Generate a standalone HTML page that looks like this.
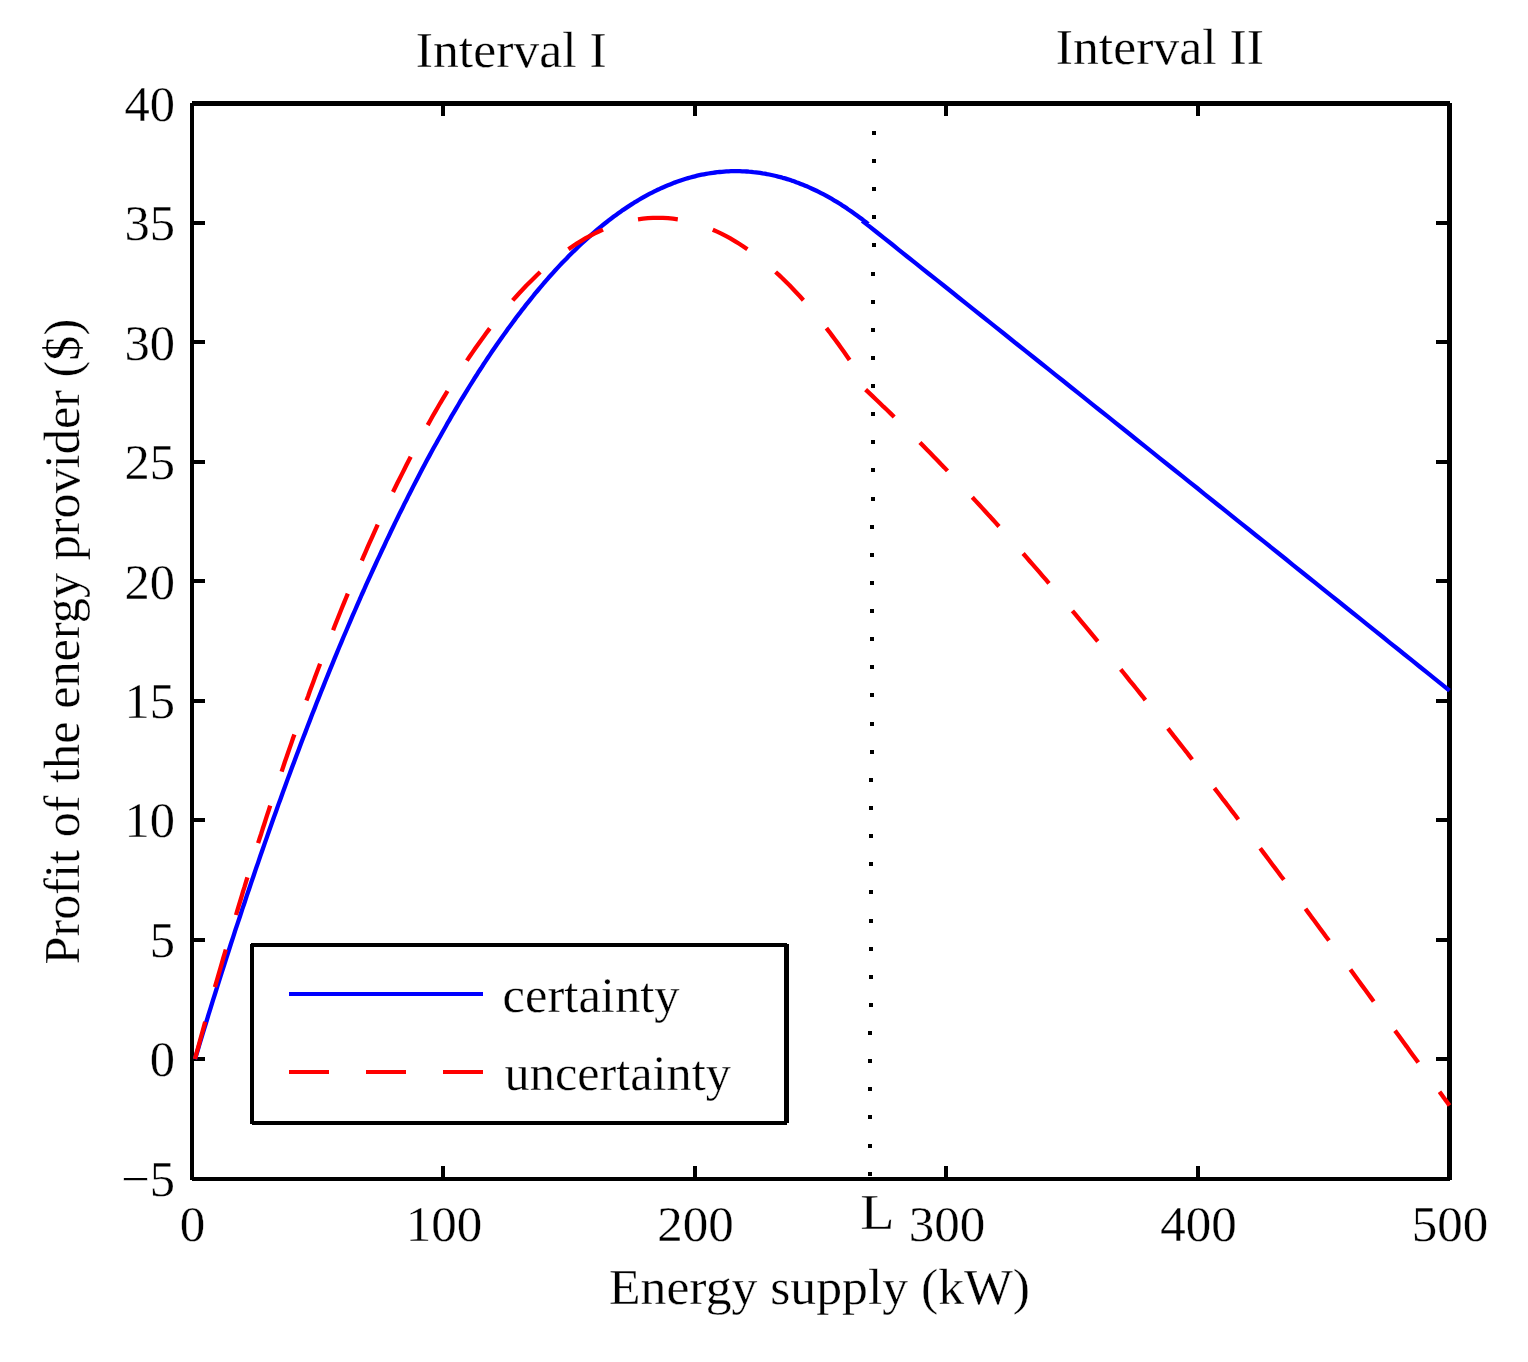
<!DOCTYPE html>
<html><head><meta charset="utf-8"><title>Profit of the energy provider</title>
<style>html,body{margin:0;padding:0;background:#fff;width:1528px;height:1362px;overflow:hidden}svg{display:block}</style>
</head><body>
<svg width="1528" height="1362" viewBox="0 0 1528 1362">
<style>text{fill:#000;stroke:#fff;stroke-width:0.3px;paint-order:fill}</style>
<rect x="0" y="0" width="1528" height="1362" fill="#fff"/>
<g fill="#000" shape-rendering="crispEdges">
<rect x="190" y="103" width="4" height="1077"/>
<rect x="1447" y="103" width="5" height="1077"/>
<rect x="192" y="101" width="1258" height="5"/>
<rect x="192" y="1177" width="1258" height="4"/>
<rect x="194" y="1057" width="11" height="4"/>
<rect x="1436" y="1057" width="11" height="4"/>
<rect x="194" y="938" width="11" height="4"/>
<rect x="1436" y="938" width="11" height="4"/>
<rect x="194" y="818" width="11" height="4"/>
<rect x="1436" y="818" width="11" height="4"/>
<rect x="194" y="699" width="11" height="4"/>
<rect x="1436" y="699" width="11" height="4"/>
<rect x="194" y="579" width="11" height="4"/>
<rect x="1436" y="579" width="11" height="4"/>
<rect x="194" y="460" width="11" height="4"/>
<rect x="1436" y="460" width="11" height="4"/>
<rect x="194" y="340" width="11" height="4"/>
<rect x="1436" y="340" width="11" height="4"/>
<rect x="194" y="221" width="11" height="4"/>
<rect x="1436" y="221" width="11" height="4"/>
<rect x="441" y="1166" width="4" height="11"/>
<rect x="441" y="106" width="4" height="10"/>
<rect x="693" y="1166" width="4" height="11"/>
<rect x="693" y="106" width="4" height="10"/>
<rect x="944" y="1166" width="4" height="11"/>
<rect x="944" y="106" width="4" height="10"/>
<rect x="1196" y="1166" width="4" height="11"/>
<rect x="1196" y="106" width="4" height="10"/>
<rect x="872" y="131" width="4" height="4"/>
<rect x="872" y="159" width="4" height="4"/>
<rect x="872" y="187" width="4" height="4"/>
<rect x="872" y="215" width="4" height="4"/>
<rect x="872" y="243" width="4" height="4"/>
<rect x="871" y="272" width="4" height="4"/>
<rect x="871" y="300" width="4" height="4"/>
<rect x="871" y="328" width="4" height="4"/>
<rect x="871" y="356" width="4" height="4"/>
<rect x="871" y="384" width="4" height="4"/>
<rect x="871" y="412" width="4" height="4"/>
<rect x="871" y="440" width="4" height="4"/>
<rect x="871" y="468" width="4" height="4"/>
<rect x="871" y="497" width="4" height="4"/>
<rect x="870" y="525" width="4" height="4"/>
<rect x="870" y="553" width="4" height="4"/>
<rect x="870" y="581" width="4" height="4"/>
<rect x="870" y="609" width="4" height="4"/>
<rect x="870" y="637" width="4" height="4"/>
<rect x="870" y="665" width="4" height="4"/>
<rect x="870" y="693" width="4" height="4"/>
<rect x="870" y="722" width="4" height="4"/>
<rect x="870" y="750" width="4" height="4"/>
<rect x="869" y="778" width="4" height="4"/>
<rect x="869" y="806" width="4" height="4"/>
<rect x="869" y="834" width="4" height="4"/>
<rect x="869" y="862" width="4" height="4"/>
<rect x="869" y="890" width="4" height="4"/>
<rect x="869" y="919" width="4" height="4"/>
<rect x="869" y="947" width="4" height="4"/>
<rect x="869" y="975" width="4" height="4"/>
<rect x="869" y="1003" width="4" height="4"/>
<rect x="868" y="1031" width="4" height="4"/>
<rect x="868" y="1059" width="4" height="4"/>
<rect x="868" y="1087" width="4" height="4"/>
<rect x="868" y="1115" width="4" height="4"/>
<rect x="868" y="1144" width="4" height="4"/>
<rect x="868" y="1172" width="4" height="4"/>
</g>
<g fill="none" stroke-linejoin="round" stroke-linecap="butt" stroke-width="4.3">
<path stroke="#0000ff" d="M195.0,1059.0L197.3,1051.5L199.5,1044.1L201.8,1036.7L204.0,1029.3L206.3,1022.0L208.5,1014.7L210.8,1007.4L213.0,1000.2L215.3,993.0L217.5,985.8L219.8,978.7L222.0,971.6L224.3,964.5L226.5,957.5L228.8,950.5L231.0,943.5L233.3,936.6L235.5,929.7L237.8,922.9L240.1,916.0L242.3,909.2L244.6,902.5L246.8,895.7L249.1,889.0L251.3,882.4L253.6,875.7L255.8,869.1L258.1,862.6L260.3,856.0L262.6,849.5L264.8,843.1L267.1,836.6L269.3,830.2L271.6,823.8L273.8,817.5L276.1,811.2L278.3,804.9L280.6,798.7L282.8,792.5L285.1,786.3L287.3,780.1L289.6,774.0L291.8,767.9L294.1,761.9L296.3,755.9L298.6,749.9L300.8,743.9L303.1,738.0L305.4,732.1L307.6,726.3L309.9,720.4L312.1,714.6L314.4,708.9L316.6,703.1L318.9,697.4L321.1,691.8L323.4,686.1L325.6,680.5L327.9,674.9L330.1,669.4L332.4,663.9L334.6,658.4L336.9,652.9L339.1,647.5L341.4,642.1L343.6,636.8L345.9,631.5L348.1,626.2L350.4,620.9L352.6,615.7L354.9,610.5L357.1,605.3L359.4,600.2L361.6,595.0L363.9,590.0L366.1,584.9L368.4,579.9L370.7,574.9L372.9,570.0L375.2,565.0L377.4,560.2L379.7,555.3L381.9,550.5L384.2,545.7L386.4,540.9L388.7,536.2L390.9,531.5L393.2,526.8L395.4,522.1L397.7,517.5L399.9,512.9L402.2,508.4L404.4,503.9L406.7,499.4L408.9,494.9L411.2,490.5L413.4,486.1L415.7,481.7L417.9,477.4L420.2,473.1L422.4,468.8L424.7,464.5L426.9,460.3L429.2,456.1L431.4,452.0L433.7,447.8L436.0,443.8L438.2,439.7L440.5,435.7L442.7,431.7L445.0,427.7L447.2,423.7L449.5,419.8L451.7,415.9L454.0,412.1L456.2,408.3L458.5,404.5L460.7,400.7L463.0,397.0L465.2,393.3L467.5,389.6L469.7,386.0L472.0,382.4L474.2,378.8L476.5,375.3L478.7,371.7L481.0,368.3L483.2,364.8L485.5,361.4L487.7,358.0L490.0,354.6L492.2,351.3L494.5,348.0L496.7,344.7L499.0,341.5L501.3,338.3L503.5,335.1L505.8,331.9L508.0,328.8L510.3,325.7L512.5,322.7L514.8,319.6L517.0,316.6L519.3,313.7L521.5,310.7L523.8,307.8L526.0,304.9L528.3,302.1L530.5,299.3L532.8,296.5L535.0,293.7L537.3,291.0L539.5,288.3L541.8,285.7L544.0,283.0L546.3,280.4L548.5,277.8L550.8,275.3L553.0,272.8L555.3,270.3L557.5,267.9L559.8,265.4L562.0,263.0L564.3,260.7L566.6,258.4L568.8,256.1L571.1,253.8L573.3,251.6L575.6,249.4L577.8,247.2L580.1,245.0L582.3,242.9L584.6,240.8L586.8,238.8L589.1,236.8L591.3,234.8L593.6,232.8L595.8,230.9L598.1,229.0L600.3,227.1L602.6,225.3L604.8,223.5L607.1,221.7L609.3,219.9L611.6,218.2L613.8,216.5L616.1,214.9L618.3,213.3L620.6,211.7L622.8,210.1L625.1,208.6L627.3,207.1L629.6,205.6L631.9,204.1L634.1,202.7L636.4,201.4L638.6,200.0L640.9,198.7L643.1,197.4L645.4,196.1L647.6,194.9L649.9,193.7L652.1,192.6L654.4,191.4L656.6,190.3L658.9,189.3L661.1,188.2L663.4,187.2L665.6,186.2L667.9,185.3L670.1,184.4L672.4,183.5L674.6,182.6L676.9,181.8L679.1,181.0L681.4,180.2L683.6,179.5L685.9,178.8L688.1,178.1L690.4,177.5L692.6,176.9L694.9,176.3L697.2,175.7L699.4,175.2L701.7,174.7L703.9,174.3L706.2,173.9L708.4,173.5L710.7,173.1L712.9,172.8L715.2,172.5L717.4,172.2L719.7,172.0L721.9,171.8L724.2,171.6L726.4,171.4L728.7,171.3L730.9,171.2L733.2,171.2L735.4,171.2L737.7,171.2L739.9,171.2L742.2,171.3L744.4,171.4L746.7,171.5L748.9,171.7L751.2,171.8L753.4,172.1L755.7,172.3L757.9,172.6L760.2,172.9L762.5,173.3L764.7,173.6L767.0,174.1L769.2,174.5L771.5,175.0L773.7,175.5L776.0,176.0L778.2,176.6L780.5,177.1L782.7,177.8L785.0,178.4L787.2,179.1L789.5,179.8L791.7,180.6L794.0,181.3L796.2,182.2L798.5,183.0L800.7,183.9L803.0,184.8L805.2,185.7L807.5,186.6L809.7,187.6L812.0,188.7L814.2,189.7L816.5,190.8L818.7,191.9L821.0,193.1L823.2,194.2L825.5,195.4L827.8,196.7L830.0,197.9L832.3,199.2L834.5,200.6L836.8,201.9L839.0,203.3L841.3,204.7L843.5,206.2L845.8,207.6L848.0,209.2L850.3,210.7L852.5,212.3L854.8,213.9L857.0,215.5L859.3,217.2L861.5,218.8L863.8,220.6L866.0,222.3L868.3,224.1M862.2,220.7L869.7,226.6L877.1,232.5L884.5,238.4L892.0,244.3L899.4,250.3L906.8,256.2L914.3,262.1L921.7,268.1L929.1,274.0L936.6,279.9L944.0,285.8L951.5,291.8L958.9,297.7L966.3,303.6L973.8,309.6L981.2,315.5L988.6,321.4L996.1,327.4L1003.5,333.3L1010.9,339.2L1018.4,345.2L1025.8,351.1L1033.2,357.0L1040.7,363.0L1048.1,368.9L1055.5,374.9L1063.0,380.8L1070.4,386.7L1077.8,392.7L1085.3,398.6L1092.7,404.6L1100.1,410.5L1107.6,416.4L1115.0,422.4L1122.4,428.3L1129.9,434.3L1137.3,440.2L1144.7,446.2L1152.2,452.1L1159.6,458.1L1167.0,464.0L1174.5,470.0L1181.9,475.9L1189.3,481.9L1196.8,487.8L1204.2,493.8L1211.6,499.7L1219.1,505.7L1226.5,511.6L1233.9,517.6L1241.4,523.6L1248.8,529.5L1256.2,535.5L1263.7,541.4L1271.1,547.4L1278.5,553.3L1286.0,559.3L1293.4,565.3L1300.8,571.2L1308.3,577.2L1315.7,583.1L1323.1,589.1L1330.6,595.1L1338.0,601.0L1345.4,607.0L1352.9,613.0L1360.3,618.9L1367.7,624.9L1375.2,630.9L1382.6,636.8L1390.0,642.8L1397.5,648.8L1404.9,654.7L1412.3,660.7L1419.8,666.7L1427.2,672.7L1434.6,678.6L1442.1,684.6L1449.5,690.6"/>
<path stroke="#ff0000" d="M195.0,1059.0L196.3,1054.1L197.7,1049.2L199.0,1044.4L200.3,1039.5L201.4,1035.5L202.8,1030.7L204.1,1025.9L205.2,1021.8M214.9,987.2L216.0,983.3L217.6,977.9L218.9,973.3L220.5,967.9L221.8,963.3L223.1,958.7L224.7,953.4L225.8,949.5M236.0,915.0L237.3,910.7L238.8,905.6L240.4,900.5L241.7,896.1L243.0,891.7L244.6,886.7L246.1,881.6L247.4,877.4M258.1,843.1L259.6,838.5L261.2,833.7L262.7,828.8L264.3,824.0L265.6,819.9L267.1,815.2L268.7,810.4L270.2,805.7M281.6,771.6L283.1,767.2L284.8,762.0L286.4,757.5L288.2,752.3L289.7,747.9L291.3,743.4L293.0,738.3L294.4,734.5M306.4,700.6L308.1,696.2L309.8,691.3L311.6,686.5L313.4,681.7L314.9,677.6L316.7,672.8L318.5,668.1L320.1,663.8M333.1,630.2L334.6,626.2L336.6,621.2L338.6,616.2L340.4,611.8L342.1,607.5L344.1,602.6L346.1,597.7L347.8,593.7M361.8,560.6L363.6,556.3L365.6,551.8L367.6,547.2L369.6,542.7L371.8,537.8L373.8,533.3L375.8,528.9L377.7,524.6M393.0,492.0L395.2,487.5L397.4,483.0L399.7,478.5L401.9,474.1L404.1,469.7L406.3,465.3L408.5,461.0L410.7,456.8M427.7,425.1L430.0,421.0L432.6,416.3L435.0,412.1L437.7,407.5L440.1,403.3L442.6,399.2L445.2,394.8L447.5,391.0M466.9,360.6L469.8,356.3L472.7,352.1L475.5,348.0L478.4,343.9L481.3,339.9L484.2,336.0L487.0,332.1L489.8,328.4M512.7,300.4L516.0,296.7L519.6,292.8L522.9,289.2L526.4,285.5L530.0,281.9L533.3,278.7L536.8,275.2L540.2,272.0M568.4,249.2L572.7,246.3L577.1,243.4L581.3,240.8L585.7,238.2L590.1,235.8L594.3,233.6L598.8,231.5L603.0,229.6M638.0,219.4L643.0,218.7L647.9,218.2L653.0,217.9L657.8,217.8L662.9,217.9L668.0,218.2L672.9,218.7L677.8,219.4M712.8,229.7L717.1,231.6L721.3,233.6L725.7,235.9L729.9,238.2L734.4,240.8L738.8,243.5L743.0,246.2L747.4,249.2M775.6,272.0L779.1,275.2L782.6,278.5L785.9,281.8L789.5,285.3L793.0,289.0L796.3,292.5L799.9,296.3L803.4,300.2M826.4,328.1L829.3,331.8L832.1,335.6L835.0,339.5L837.9,343.4L841.0,347.7L843.9,351.8L846.8,355.9L849.6,360.0M865.6,389.6L869.1,392.9L872.8,396.4L876.3,399.7L880.0,403.3L883.5,406.7L887.1,410.0L890.8,413.6L894.2,417.0M919.9,442.5L923.4,446.1L927.0,449.7L930.3,453.1L933.8,456.7L937.3,460.3L940.6,463.8L944.2,467.4L947.5,470.9M972.3,497.3L975.6,500.9L979.0,504.5L982.3,508.1L985.6,511.7L989.1,515.6L992.5,519.2L995.8,522.9L999.0,526.5M1023.1,553.5L1026.3,557.2L1029.6,561.0L1032.8,564.6L1036.1,568.4L1039.4,572.2L1042.5,575.8L1045.9,579.7L1049.0,583.4M1072.4,610.9L1075.4,614.4L1078.7,618.4L1081.8,622.1L1085.2,626.1L1088.3,629.9L1091.4,633.7L1094.7,637.7L1097.8,641.3M1120.7,669.3L1123.7,673.0L1126.8,676.9L1129.9,680.8L1133.1,684.6L1136.2,688.5L1139.3,692.4L1142.5,696.3L1145.4,700.1M1167.9,728.4L1171.0,732.3L1173.9,736.1L1177.1,740.1L1180.0,743.8L1183.1,747.8L1186.3,751.8L1189.2,755.6L1192.2,759.5M1214.4,788.1L1217.4,792.0L1220.3,795.8L1223.2,799.7L1226.4,803.7L1229.5,807.8L1232.4,811.7L1235.4,815.5L1238.3,819.5M1260.2,848.3L1262.9,851.9L1266.1,856.1L1269.0,860.0L1272.1,864.2L1275.1,868.1L1278.0,872.0L1281.1,876.2L1283.9,879.8M1305.5,908.8L1308.3,912.6L1311.2,916.6L1314.2,920.5L1317.1,924.5L1320.2,928.7L1323.2,932.7L1326.1,936.7L1329.0,940.5M1350.4,969.6L1353.3,973.6L1356.2,977.6L1359.1,981.6L1362.1,985.6L1365.0,989.6L1367.9,993.6L1370.9,997.6L1373.7,1001.5M1395.0,1030.6L1397.9,1034.5L1400.8,1038.6L1403.7,1042.6L1406.7,1046.6L1409.6,1050.7L1412.5,1054.7L1415.5,1058.7L1418.3,1062.6M1439.5,1091.8L1440.5,1093.1L1441.9,1095.0L1443.2,1096.9L1444.4,1098.5L1445.6,1100.1L1447.0,1102.0L1448.3,1103.9L1449.5,1105.5"/>
</g>
<g shape-rendering="crispEdges">
<rect x="252" y="945" width="534" height="178" fill="#fff"/>
<rect x="251" y="943" width="536" height="4" fill="#000"/>
<rect x="250" y="944" width="4" height="180" fill="#000"/>
<rect x="784" y="944" width="5" height="179" fill="#000"/>
<rect x="252" y="1121" width="535" height="4" fill="#000"/>
<rect x="289" y="992" width="194" height="4" fill="#0000ff"/>
<rect x="289" y="1070" width="40" height="4" fill="#ff0000"/>
<rect x="366" y="1070" width="40" height="4" fill="#ff0000"/>
<rect x="443" y="1070" width="40" height="4" fill="#ff0000"/>
</g>
<text x="415.8" y="66.8" style="font-family:'Liberation Serif','Times New Roman',serif;font-size:51.7px" text-anchor="start">Interval I</text>
<text x="1055.8" y="64.0" style="font-family:'Liberation Serif','Times New Roman',serif;font-size:51.7px" text-anchor="start">Interval II</text>
<text x="502.6" y="1012.4" style="font-family:'Liberation Serif','Times New Roman',serif;font-size:50.6px" text-anchor="start">certainty</text>
<text x="504.6" y="1090.2" style="font-family:'Liberation Serif','Times New Roman',serif;font-size:50.3px" text-anchor="start">uncertainty</text>
<text x="609.0" y="1304.2" style="font-family:'Liberation Serif','Times New Roman',serif;font-size:51.7px" text-anchor="start">Energy supply (kW)</text>
<text x="175.0" y="1195.6" style="font-family:'Liberation Serif','Times New Roman',serif;font-size:50.5px" text-anchor="end">−5</text>
<text x="175.0" y="1076.2" style="font-family:'Liberation Serif','Times New Roman',serif;font-size:50.5px" text-anchor="end">0</text>
<text x="175.0" y="956.8" style="font-family:'Liberation Serif','Times New Roman',serif;font-size:50.5px" text-anchor="end">5</text>
<text x="175.0" y="837.3" style="font-family:'Liberation Serif','Times New Roman',serif;font-size:50.5px" text-anchor="end">10</text>
<text x="175.0" y="717.9" style="font-family:'Liberation Serif','Times New Roman',serif;font-size:50.5px" text-anchor="end">15</text>
<text x="175.0" y="598.5" style="font-family:'Liberation Serif','Times New Roman',serif;font-size:50.5px" text-anchor="end">20</text>
<text x="175.0" y="479.1" style="font-family:'Liberation Serif','Times New Roman',serif;font-size:50.5px" text-anchor="end">25</text>
<text x="175.0" y="359.6" style="font-family:'Liberation Serif','Times New Roman',serif;font-size:50.5px" text-anchor="end">30</text>
<text x="175.0" y="240.2" style="font-family:'Liberation Serif','Times New Roman',serif;font-size:50.5px" text-anchor="end">35</text>
<text x="175.0" y="120.8" style="font-family:'Liberation Serif','Times New Roman',serif;font-size:50.5px" text-anchor="end">40</text>
<text x="192.5" y="1241.0" style="font-family:'Liberation Serif','Times New Roman',serif;font-size:51.0px" text-anchor="middle">0</text>
<text x="444.0" y="1241.0" style="font-family:'Liberation Serif','Times New Roman',serif;font-size:51.0px" text-anchor="middle">100</text>
<text x="695.5" y="1241.0" style="font-family:'Liberation Serif','Times New Roman',serif;font-size:51.0px" text-anchor="middle">200</text>
<text x="947.0" y="1241.0" style="font-family:'Liberation Serif','Times New Roman',serif;font-size:51.0px" text-anchor="middle">300</text>
<text x="1198.5" y="1241.0" style="font-family:'Liberation Serif','Times New Roman',serif;font-size:51.0px" text-anchor="middle">400</text>
<text x="1450.0" y="1241.0" style="font-family:'Liberation Serif','Times New Roman',serif;font-size:51.0px" text-anchor="middle">500</text>
<text transform="translate(860.2,1229) scale(1.1,1)" x="0" y="0" style="font-family:'Liberation Serif','Times New Roman',serif;font-size:51px">L</text>
<text transform="translate(78.8,963) rotate(-90)" x="-1.5" y="0" style="font-family:'Liberation Serif','Times New Roman',serif;font-size:50.3px">Profit of the energy provider ($)</text>
</svg>
</body></html>
